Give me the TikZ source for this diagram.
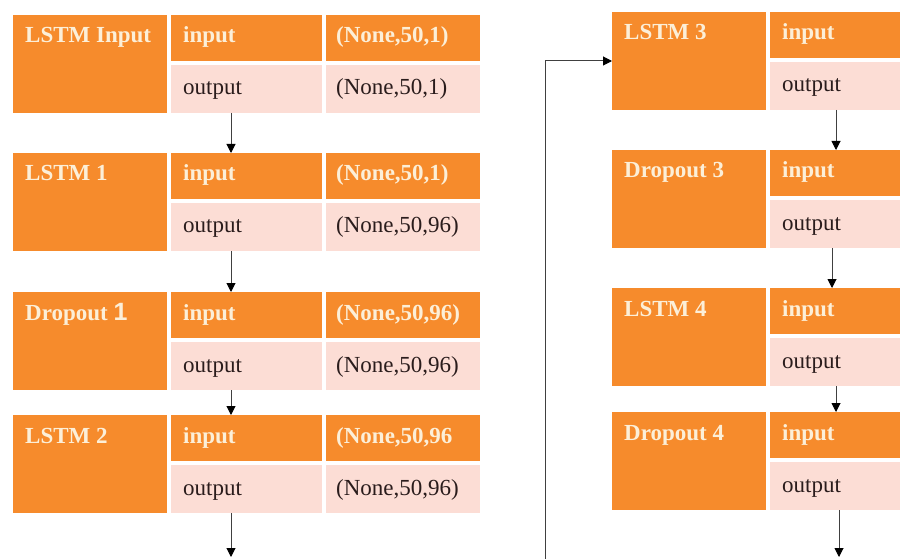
\documentclass[tikz,border=0pt]{standalone}
\usepackage{fontspec}
\setmainfont{Liberation Serif}
\newfontfamily\numfont{Liberation Sans}
\usetikzlibrary{arrows.meta,calc}
\definecolor{orng}{HTML}{F68B2C}
\definecolor{pnk}{HTML}{FCDDD5}
\definecolor{cream}{HTML}{FCEFD8}
\definecolor{dark}{HTML}{2A1C1C}
\tikzset{
  cellbase/.style={fill=#1, draw=none, anchor=north west, inner sep=0pt, outer sep=0pt},
  lblbox/.style={cellbase=orng, minimum width=154pt, minimum height=98pt},
  incell/.style={cellbase=orng, minimum width=151pt, minimum height=46pt},
  invcell/.style={cellbase=orng, minimum width=154pt, minimum height=46pt},
  outcell/.style={cellbase=pnk, minimum width=151pt, minimum height=48pt},
  outvcell/.style={cellbase=pnk, minimum width=154pt, minimum height=48pt},
  hdtxt/.style={anchor=base west, inner sep=0pt, text=cream, font=\fontsize{23}{26}\selectfont\bfseries},
  bdtxt/.style={anchor=base west, inner sep=0pt, text=dark, font=\fontsize{23}{26}\selectfont},
  flow/.style={draw=black!75, line width=1pt, -{Triangle[length=9pt,width=9pt,color=black]}},
}
% full block: id, x0, top, label, input value, output value
\newcommand\lstmblk[6]{%
  \node[lblbox] (#1) at (#2,#3) {};
  \node[hdtxt] (#1t) at ({#2+12},{#3+28}) {#4};
  \node[incell] (#1i) at ({#2+158},#3) {};
  \node[hdtxt] (#1it) at ({#2+170},{#3+28}) {input};
  \node[outcell] (#1o) at ({#2+158},{#3+50}) {};
  \node[bdtxt] (#1ot) at ({#2+170},{#3+80}) {output};
  \node[invcell] (#1v) at ({#2+313},#3) {};
  \node[hdtxt] (#1vt) at ({#2+323},{#3+28}) {#5};
  \node[outvcell] (#1w) at ({#2+313},{#3+50}) {};
  \node[bdtxt] (#1wt) at ({#2+323},{#3+80}) {#6};
}
% block cut by the right edge: id, x0, top, label
\newcommand\lstmcut[4]{%
  \node[lblbox] (#1) at (#2,#3) {};
  \node[hdtxt] (#1t) at ({#2+12},{#3+28}) {#4};
  \node[incell] (#1i) at ({#2+158},#3) {};
  \node[hdtxt] (#1it) at ({#2+170},{#3+28}) {input};
  \node[outcell] (#1o) at ({#2+158},{#3+50}) {};
  \node[bdtxt] (#1ot) at ({#2+170},{#3+80}) {output};
}
\begin{document}
\begin{tikzpicture}[x=1pt,y=-1pt]
  \useasboundingbox (0,0) rectangle (900,559);
  \fill[white] (0,0) rectangle (900,559);
  \clip (0,0) rectangle (900,559);
  % left column
  \lstmblk{a}{13}{15}{LSTM Input}{(None,50,1)}{(None,50,1)}
  \lstmblk{b}{13}{153}{LSTM 1}{(None,50,1)}{(None,50,96)}
  \lstmblk{c}{13}{292}{Dropout {\numfont\fontsize{25}{28}\selectfont 1}}{(None,50,96)}{(None,50,96)}
  \lstmblk{d}{13}{415}{LSTM 2}{(None,50,96}{(None,50,96)}
  % right column
  \lstmcut{e}{612}{12}{LSTM 3}
  \lstmcut{f}{612}{150}{Dropout 3}
  \lstmcut{g}{612}{288}{LSTM 4}
  \lstmcut{h}{612}{412}{Dropout 4}
  % connectors
  \draw[flow] ($(ao.south west)+(60,0)$) -- ($(bi.north west)+(60,0)$);
  \draw[flow] ($(bo.south west)+(60,0)$) -- ($(ci.north west)+(60,0)$);
  \draw[flow] ($(co.south west)+(60,0)$) -- ($(di.north west)+(60,0)$);
  \coordinate (endL) at (231,557);
  \draw[flow] ($(do.south west)+(60,0)$) -- (endL);
  \draw[flow] ($(eo.south west)+(66,0)$) -- ($(fi.north west)+(66,0)$);
  \draw[flow] ($(fo.south west)+(62,0)$) -- ($(gi.north west)+(62,0)$);
  \draw[flow] ($(go.south west)+(66,0)$) -- ($(hi.north west)+(66,0)$);
  \coordinate (endR) at (839,557);
  \draw[flow] ($(ho.south west)+(69,0)$) -- (endR);
  \coordinate (fb) at (545,562);
  \draw[flow] (fb) |- (e.west);
\end{tikzpicture}
\end{document}
